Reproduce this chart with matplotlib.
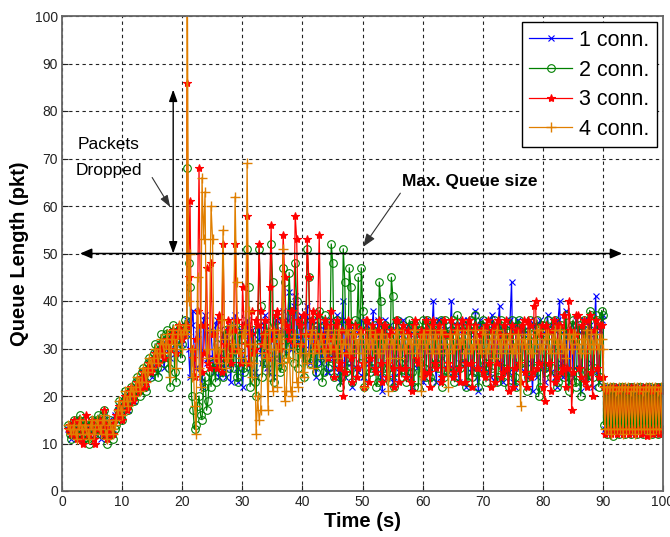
import numpy as np
import matplotlib
matplotlib.use("Agg")
import matplotlib.pyplot as plt
from matplotlib import font_manager as fm

names = {f.name for f in fm.fontManager.ttflist}
NARROW = 'Liberation Sans Narrow' if 'Liberation Sans Narrow' in names else 'Liberation Sans'
plt.rcParams['font.family'] = ['Liberation Sans', 'DejaVu Sans']

# ---------------- data ----------------
series_labels = ["1 conn.", "2 conn.", "3 conn.", "4 conn."]
x_ticks = [0, 10, 20, 30, 40, 50, 60, 70, 80, 90, 100]
y_ticks = [0, 10, 20, 30, 40, 50, 60, 70, 80, 90, 100]

# sampling of the phases (start time, step in s); "_b" arrays are the
# samples lying between those of the first arrays
ramp_start, ramp_step = 1.0, 0.5
main_start, main_step = 20.8, 0.5
half_offset = 0.25
tail_start, tail_step = 90.1, 0.25

# ---- 1 connection (blue)
q1_ramp = [13, 11, 14, 12, 15, 11, 13, 12, 14, 12,
           15, 11, 16, 11, 14, 12, 15, 18, 16, 20,
           17, 21, 19, 23, 21, 25, 22, 27, 24, 29,
           25, 31, 26, 32, 28, 33, 29, 34, 31, 35]
q1_ramp_b = [12, 13, 13, 14, 12, 14, 12, 13, 13, 14,
             13, 14, 13, 15, 13, 16, 17, 17, 19, 18,
             20, 20, 21, 22, 23, 23, 25, 25, 27, 27,
             29, 28, 30, 30, 32, 31, 33, 32, 34, 33]
q1_main = [36, 24, 38, 26, 35, 22, 37, 28,
           34, 25, 36, 27, 33, 24, 35, 29,
           37, 23, 34, 28, 36, 26, 33, 24,
           35, 27, 37, 25, 34, 28, 36, 27,
           38, 29, 42, 30, 41, 31, 37, 28,
           39, 27, 36, 24, 35, 28, 34, 25,
           36, 26, 37, 23, 40, 27, 35, 22,
           34, 25, 36, 24, 35, 27, 38, 26,
           35, 21, 36, 27, 34, 24, 35, 28,
           36, 25, 34, 22, 35, 27, 33, 24,
           35, 26, 40, 23, 36, 28, 34, 25,
           40, 24, 35, 27, 36, 22, 34, 26,
           38, 21, 35, 26, 36, 24, 34, 27,
           39, 23, 35, 25, 44, 22, 36, 26,
           34, 24, 36, 21, 35, 27, 33, 23,
           37, 25, 34, 22, 40, 24, 38, 23,
           35, 26, 34, 21, 36, 24, 35, 22,
           41, 23, 36]
q1_main_b = [30, 35, 26, 33, 24, 36, 27, 34,
             28, 35, 24, 32, 26, 34, 23, 36,
             26, 33, 22, 35, 27, 34, 25, 32,
             29, 35, 26, 33, 24, 36, 28, 34,
             33, 36, 30, 39, 32, 35, 29, 36,
             30, 35, 26, 34, 27, 36, 25, 33,
             28, 35, 25, 36, 24, 34, 27, 35,
             26, 33, 24, 35, 27, 34, 25, 36,
             24, 34, 26, 35, 23, 36, 25, 33,
             27, 35, 24, 33, 26, 34, 23, 36,
             25, 34, 27, 36, 24, 35, 26, 33,
             26, 35, 23, 34, 27, 36, 25, 33,
             24, 36, 26, 34, 25, 37, 23, 35,
             27, 34, 25, 36, 23, 35, 26, 34,
             25, 33, 27, 35, 24, 36, 26, 34,
             26, 35, 24, 36, 27, 34, 25, 33,
             24, 36, 26, 34, 23, 35, 27, 33,
             25, 34, 37]
q1_tail = [22, 13, 22, 12, 21, 13, 22, 14, 22, 13,
           21, 12, 22, 13, 22, 14, 21, 13, 22, 12,
           22, 13, 21, 14, 22, 13, 22, 12, 21, 13,
           22, 14, 22, 13, 21, 12, 22, 13, 22, 13]

# ---- 2 connections (green)
q2_ramp = [14, 11, 15, 12, 16, 11, 14, 10, 15, 13,
           16, 12, 17, 10, 15, 11, 14, 19, 15, 21,
           17, 22, 19, 24, 20, 26, 21, 28, 25, 31,
           24, 33, 27, 34, 22, 35, 23, 34, 31, 36]
q2_ramp_b = [12, 14, 13, 15, 12, 15, 11, 14, 12, 15,
             13, 16, 12, 14, 12, 13, 17, 16, 19, 18,
             21, 20, 23, 21, 25, 22, 27, 24, 29, 26,
             31, 28, 33, 26, 33, 25, 32, 28, 34, 33]
q2_main = [68, 43, 17, 14, 20, 15, 24, 19,
           22, 26, 31, 27, 24, 33, 26, 30,
           35, 23, 32, 25, 51, 22, 34, 20,
           51, 24, 33, 27, 52, 23, 36, 25,
           47, 28, 46, 31, 48, 26, 35, 24,
           51, 27, 36, 25, 38, 23, 37, 26,
           52, 24, 36, 22, 51, 25, 47, 23,
           36, 45, 47, 22, 35, 25, 34, 22,
           44, 24, 35, 26, 45, 22, 36, 27,
           34, 23, 36, 25, 35, 22, 34, 26,
           36, 24, 35, 27, 33, 22, 36, 25,
           34, 23, 37, 26, 35, 22, 34, 24,
           37, 22, 35, 27, 34, 25, 36, 23,
           35, 26, 34, 22, 36, 24, 35, 27,
           33, 21, 36, 25, 34, 20, 35, 26,
           36, 24, 35, 22, 34, 26, 37, 21,
           35, 23, 34, 20, 36, 25, 38, 24,
           37, 22, 38]
q2_main_b = [48, 20, 13, 18, 16, 22, 17, 25,
             27, 23, 29, 25, 34, 28, 31, 26,
             24, 34, 26, 33, 43, 28, 23, 31,
             39, 27, 35, 24, 44, 29, 33, 26,
             44, 32, 38, 27, 40, 30, 36, 28,
             45, 29, 34, 27, 36, 25, 35, 28,
             48, 27, 35, 24, 44, 26, 43, 25,
             34, 27, 38, 24, 33, 26, 35, 23,
             40, 26, 34, 23, 41, 25, 35, 24,
             33, 25, 35, 22, 34, 27, 36, 24,
             35, 23, 34, 26, 36, 24, 33, 25,
             36, 24, 33, 27, 35, 23, 36, 25,
             34, 25, 36, 23, 35, 26, 34, 24,
             36, 23, 35, 25, 34, 22, 36, 26,
             35, 24, 33, 26, 36, 22, 34, 25,
             34, 26, 36, 23, 35, 24, 33, 25,
             36, 22, 35, 25, 34, 23, 37, 26,
             36, 24, 37]
q2_tail = [14, 22, 12, 21, 13, 22, 11.5, 22, 13, 21,
           12, 22, 13, 22, 12, 21, 13, 22, 12, 22,
           13, 21, 12, 22, 13, 22, 12, 21, 13, 22,
           13, 22, 12, 21, 13, 22, 12, 22, 13, 22]

# ---- 3 connections (red)
q3_ramp = [13, 12, 15, 11, 14, 10, 16, 12, 15, 10,
           14, 13, 17, 11, 13, 12, 16, 18, 15, 20,
           18, 22, 20, 23, 22, 25, 23, 27, 26, 29,
           27, 31, 28, 32, 30, 34, 29, 35, 32, 34]
q3_ramp_b = [14, 13, 12, 15, 11, 13, 12, 14, 11, 13,
             15, 12, 14, 12, 14, 15, 17, 16, 19, 17,
             21, 19, 22, 21, 24, 22, 26, 25, 28, 27,
             30, 29, 31, 31, 33, 32, 33, 34, 33, 35]
q3_main = [86, 61, 28, 32, 68, 25, 35, 27,
           48, 33, 26, 36, 52, 28, 34, 30,
           52, 30, 27, 35, 58, 33, 29, 36,
           52, 31, 36, 28, 56, 34, 38, 30,
           54, 35, 32, 38, 58, 36, 31, 37,
           53, 33, 38, 30, 54, 32, 36, 28,
           38, 24, 36, 27, 20, 29, 35, 23,
           35, 26, 34, 22, 36, 28, 33, 25,
           36, 23, 35, 27, 34, 22, 36, 26,
           35, 24, 33, 21, 36, 27, 34, 25,
           34, 22, 36, 26, 35, 24, 33, 27,
           36, 25, 35, 23, 34, 27, 36, 22,
           35, 26, 34, 24, 36, 22, 35, 27,
           33, 25, 36, 21, 35, 26, 34, 23,
           36, 22, 35, 25, 40, 27, 35, 19,
           34, 21, 36, 24, 35, 26, 22, 40,
           17, 33, 37, 24, 36, 22, 37, 20,
           36, 24, 35]
q3_main_b = [45, 30, 24, 38, 35, 29, 47, 26,
             33, 28, 37, 25, 31, 36, 27, 34,
             36, 29, 43, 31, 27, 38, 30, 35,
             38, 33, 29, 43, 32, 37, 31, 36,
             45, 34, 38, 31, 53, 35, 37, 33,
             45, 36, 31, 37, 33, 30, 35, 32,
             30, 35, 26, 34, 25, 36, 28, 33,
             24, 34, 27, 36, 23, 35, 26, 34,
             27, 35, 24, 33, 26, 36, 23, 34,
             26, 34, 23, 35, 28, 33, 24, 36,
             25, 35, 27, 34, 23, 36, 26, 33,
             24, 34, 26, 36, 23, 35, 27, 34,
             26, 33, 25, 35, 27, 34, 23, 36,
             24, 35, 26, 33, 22, 34, 27, 35,
             25, 36, 24, 39, 26, 33, 22, 35,
             27, 34, 23, 35, 25, 37, 26, 34,
             25, 37, 26, 35, 23, 36, 25, 34,
             26, 35, 24]
q3_tail = [22, 12, 21, 13, 22, 12, 22, 13, 22, 12,
           21, 13, 22, 12, 22, 13, 21, 12, 22, 13,
           22, 12, 22, 13, 21, 12, 22, 13, 22, 11.5,
           22, 13, 21, 12, 22, 13, 22, 12, 21, 13]

# ---- 4 connections (orange)
q4_ramp = [14, 12, 14, 11, 15, 12, 13, 11, 15, 13,
           14, 12, 16, 11, 14, 12, 15, 19, 16, 21,
           18, 22, 20, 24, 21, 26, 23, 28, 26, 30,
           27, 32, 29, 33, 24, 34, 26, 35, 30, 35]
q4_ramp_b = [13, 13, 12, 14, 13, 14, 12, 14, 12, 15,
             13, 15, 12, 15, 13, 14, 17, 17, 19, 19,
             20, 21, 22, 23, 23, 25, 25, 27, 28, 29,
             29, 31, 31, 30, 32, 31, 33, 33, 34, 33]
q4_main = [130, 50, 30, 12, 26, 66, 63, 30,
           60, 28, 34, 30, 55, 26, 33, 29,
           62, 30, 28, 34, 69, 31, 27, 12,
           15, 29, 33, 17, 30, 34, 22, 32,
           51, 21, 30, 20, 33, 22, 31, 24,
           27, 32, 26, 33, 29, 31, 28, 34,
           30, 33, 28, 32, 31, 34, 29, 33,
           32, 29, 33, 22, 31, 34, 30, 32,
           29, 33, 31, 21, 32, 30, 34, 28,
           33, 30, 32, 29, 34, 31, 21, 33,
           31, 34, 30, 32, 29, 33, 31, 22,
           32, 30, 34, 31, 33, 29, 32, 30,
           34, 31, 29, 33, 30, 32, 28, 34,
           31, 33, 30, 32, 29, 31, 33, 18,
           32, 30, 33, 29, 31, 34, 30, 32,
           33, 29, 32, 31, 34, 30, 28, 33,
           30, 33, 31, 29, 32, 34, 30, 31,
           33, 30, 32]
q4_main_b = [40, 24, 18, 45, 22, 53, 28, 34,
             53, 30, 27, 36, 32, 28, 35, 31,
             44, 29, 33, 27, 38, 24, 31, 20,
             17, 31, 28, 34, 21, 30, 33, 27,
             19, 28, 21, 32, 23, 29, 25, 33,
             29, 34, 30, 31, 33, 29, 32, 30,
             32, 30, 34, 29, 31, 33, 30, 34,
             31, 33, 29, 32, 30, 31, 33, 29,
             33, 30, 32, 28, 31, 33, 30, 32,
             30, 32, 31, 34, 29, 32, 33, 30,
             32, 29, 33, 30, 34, 31, 29, 33,
             30, 33, 31, 32, 29, 34, 30, 31,
             32, 30, 34, 29, 31, 33, 30, 32,
             29, 32, 31, 33, 30, 29, 32, 31,
             31, 33, 29, 32, 34, 30, 31, 33,
             30, 32, 34, 29, 31, 33, 30, 32,
             33, 31, 30, 32, 29, 31, 33, 30,
             31, 32, 30]
q4_tail = [22, 13, 22, 13, 22, 12, 22, 13, 21, 13,
           22, 13, 22, 12, 22, 13, 22, 13, 21, 13,
           22, 12, 22, 13, 22, 13, 21, 13, 22, 13,
           22, 12, 22, 13, 22, 13, 21, 13, 22, 13]

# ---------------- helpers ----------------
def build(ramp, ramp_b, main, main_b, tail):
    parts_t = [ramp_start + ramp_step * np.arange(len(ramp)),
               ramp_start + half_offset + ramp_step * np.arange(len(ramp_b)),
               main_start + main_step * np.arange(len(main)),
               main_start + half_offset + main_step * np.arange(len(main_b)),
               tail_start + tail_step * np.arange(len(tail))]
    t = np.concatenate(parts_t)
    q = np.array(ramp + ramp_b + main + main_b + tail, dtype=float)
    order = np.argsort(t, kind='stable')
    return t[order], q[order]

series = [(q1_ramp, q1_ramp_b, q1_main, q1_main_b, q1_tail),
          (q2_ramp, q2_ramp_b, q2_main, q2_main_b, q2_tail),
          (q3_ramp, q3_ramp_b, q3_main, q3_main_b, q3_tail),
          (q4_ramp, q4_ramp_b, q4_main, q4_main_b, q4_tail)]
styles = [dict(color='#0000ff', marker='x', ms=4, mew=0.8),
          dict(color='#008000', marker='o', ms=5.5, mew=0.8, mfc='none'),
          dict(color='#ff0000', marker='*', ms=6, mew=0.8),
          dict(color='#e07f00', marker='+', ms=7, mew=1.0)]

fig = plt.figure(figsize=(6.7, 5.37), dpi=100)
ax = fig.add_axes([62/670, 46/537, 601/670, 475/537])

for parts, lab, st in zip(series, series_labels, styles):
    t, q = build(*parts)
    ax.plot(t, q, lw=0.9, label=lab, **st)

ax.set_xlim(0, 100)
ax.set_ylim(0, 100)
ax.set_xticks(x_ticks)
ax.set_yticks(y_ticks)
for lbl in ax.get_xticklabels() + ax.get_yticklabels():
    lbl.set_family(NARROW)
    lbl.set_fontsize(10)
ax.tick_params(direction='in', length=4, width=0.8, colors='#222222', pad=3)
ax.grid(True, color='#222222', linestyle=(0, (3, 3)), linewidth=0.8)
for sp in ax.spines.values():
    sp.set_color('#666666')
    sp.set_linewidth(1.3)

ax.set_xlabel('Time (s)', fontsize=14.5, fontweight='bold', labelpad=2)
ax.set_ylabel('Queue Length (pkt)', fontsize=14.5, fontweight='bold', labelpad=4)

leg = ax.legend(loc='upper right', fontsize=15.5, fancybox=False, framealpha=1,
                edgecolor='black', handlelength=2.0, handletextpad=0.3,
                borderpad=0.35, labelspacing=0.4, borderaxespad=0.3)
leg.get_frame().set_linewidth(1.0)

# annotations
ax.annotate('', xy=(3.0, 50), xytext=(93.2, 50),
            arrowprops=dict(arrowstyle='<|-|>,head_length=0.7,head_width=0.3',
                            color='black', lw=1.1, shrinkA=0, shrinkB=0))
ax.annotate('', xy=(18.5, 84.5), xytext=(18.5, 50),
            arrowprops=dict(arrowstyle='<|-|>,head_length=0.7,head_width=0.25',
                            color='black', lw=1.0, shrinkA=0, shrinkB=0))
ax.text(7.8, 73, 'Packets', fontsize=12.5, ha='center', va='center')
ax.text(7.8, 67.5, 'Dropped', fontsize=12.5, ha='center', va='center')
ax.annotate('', xy=(18.0, 59.8), xytext=(15.0, 66.0),
            arrowprops=dict(arrowstyle='-|>,head_length=0.7,head_width=0.25',
                            color='#333333', lw=0.8, shrinkA=0, shrinkB=0))
ax.text(56.5, 65.2, 'Max. Queue size', fontsize=12.5, fontweight='bold',
        family=NARROW, ha='left', va='center')
ax.annotate('', xy=(50.1, 51.4), xytext=(56.3, 62.7),
            arrowprops=dict(arrowstyle='-|>,head_length=0.8,head_width=0.3',
                            color='#333333', lw=0.8, shrinkA=0, shrinkB=0))

fig.savefig('out.png', dpi=100)
